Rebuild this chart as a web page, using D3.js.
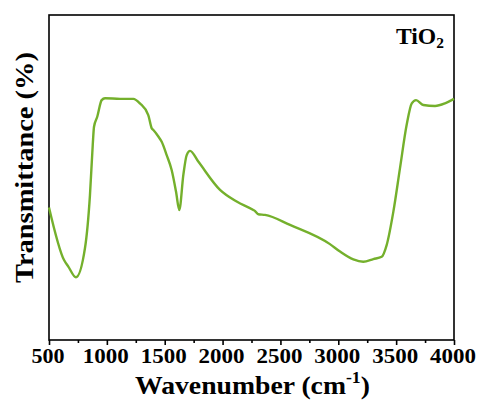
<!DOCTYPE html>
<html>
<head>
<meta charset="utf-8">
<script src="https://cdn.jsdelivr.net/npm/d3@7"></script>
<style>
  html, body { margin: 0; padding: 0; background: #fff; }
  svg { display: block; }
  text { font-family: "Liberation Serif", "Times New Roman", serif; font-weight: bold; fill: #000; }
</style>
</head>
<body>
<svg id="chart" width="483" height="411"></svg>
<script>
// ---- data ----
const wavenumber = [500, 630, 667, 733, 811, 854, 878, 889, 917, 955, 984, 1114, 1229, 1286, 1358, 1388, 1402, 1445, 1474, 1517, 1560, 1598, 1626, 1661, 1690, 1719, 1790, 1978, 2122, 2266, 2280, 2309, 2367, 2583, 2928, 3015, 3130, 3216, 3303, 3375, 3418, 3476, 3533, 3591, 3635, 3672, 3735, 3836, 3922, 4000];
const transmittance = [40.8, 24.6, 22.6, 19.3, 28.3, 44.6, 60.0, 65.6, 68.7, 73.8, 74.4, 74.2, 74.2, 72.8, 69.2, 65.1, 64.6, 62.6, 61.0, 56.9, 52.3, 45.6, 40.0, 50.8, 56.9, 58.2, 54.9, 46.2, 42.6, 40.0, 39.7, 38.7, 38.5, 35.4, 29.5, 27.2, 24.8, 24.1, 24.9, 25.6, 29.2, 39.5, 52.8, 66.2, 72.8, 73.8, 72.3, 72.0, 72.8, 74.2];
const xTicks = [500, 1000, 1500, 2000, 2500, 3000, 3500, 4000];
const xMinorTicks = [750, 1250, 1750, 2250, 2750, 3250, 3750];
const seriesLabel = "TiO";
const seriesSub = "2";
const xTitle = "Wavenumber (cm";
const xTitleSup = "-1";
const yTitle = "Transmittance (%)";

// ---- layout ----
const svg = d3.select("#chart");
const L = 49, R = 454, T = 15, B = 340;
const x = d3.scaleLinear().domain([500, 4000]).range([L, R]);
const y = d3.scaleLinear().domain([0, 100]).range([B, T]);

// stretch a text element horizontally (in its own frame) to a target width, around its anchor
function fitWidth(el, target) {
  const w = el.node().getBBox().width;
  if (w > 0) {
    const s = target / w;
    const ax = +el.attr("x") || 0;
    const prev = el.attr("transform") || "";
    el.attr("transform", `${prev} translate(${ax},0) scale(${s},1) translate(${-ax},0)`);
  }
}

// frame
svg.append("rect").attr("x", L).attr("y", T).attr("width", R - L).attr("height", B - T)
  .attr("fill", "none").attr("stroke", "#000").attr("stroke-width", 1.6);

// x axis
const xAxis = d3.axisBottom(x).tickValues(xTicks).tickSize(5).tickPadding(4).tickFormat(d3.format("d"));
const gx = svg.append("g").attr("transform", `translate(0,${B})`).call(xAxis);
gx.select(".domain").remove();
gx.selectAll(".tick line").attr("stroke", "#000").attr("stroke-width", 1.6);
gx.selectAll(".tick text").attr("font-size", 22).attr("font-family", "Liberation Serif")
  .attr("font-weight", "bold").attr("fill", "#000").attr("y", 23).attr("dy", 0).attr("x", -1.5)
  .each(function(d) { fitWidth(d3.select(this), String(d).length === 3 ? 33 : 46); });

const xMinor = d3.axisBottom(x).tickValues(xMinorTicks).tickSize(3).tickFormat("");
const gm = svg.append("g").attr("transform", `translate(0,${B})`).call(xMinor);
gm.select(".domain").remove();
gm.selectAll(".tick line").attr("stroke", "#000").attr("stroke-width", 1.6);

// line
const line = d3.line().x((d, i) => x(wavenumber[i])).y(d => y(d)).curve(d3.curveMonotoneX);
svg.append("path").datum(transmittance).attr("d", line)
  .attr("fill", "none").attr("stroke", "#74b02c").attr("stroke-width", 2.4).attr("stroke-linejoin", "round");

// series label
const lab = svg.append("text").attr("x", 396).attr("y", 44).attr("font-size", 23);
lab.append("tspan").text(seriesLabel);
lab.append("tspan").attr("font-size", 15).attr("dy", 4).text(seriesSub);
fitWidth(lab, 48);

// x title
const xt = svg.append("text").attr("x", 252.5).attr("y", 394).attr("text-anchor", "middle").attr("font-size", 25);
xt.append("tspan").text(xTitle);
xt.append("tspan").attr("font-size", 16).attr("dy", -11).text(xTitleSup);
xt.append("tspan").attr("dy", 11).text(")");
fitWidth(xt, 235);

// y title
const yt = svg.append("text").attr("x", 0).attr("y", 0).attr("transform", `translate(33,167.5) rotate(-90)`)
  .attr("text-anchor", "middle").attr("font-size", 26).text(yTitle);
fitWidth(yt, 231);
</script>
</body>
</html>
